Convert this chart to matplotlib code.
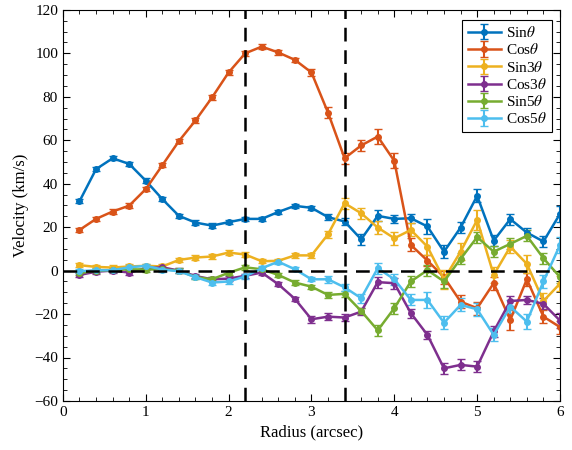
import matplotlib
matplotlib.use("Agg")
import matplotlib.pyplot as plt
from matplotlib.ticker import MultipleLocator

plt.rcParams['font.family'] = ['Liberation Serif', 'DejaVu Serif']
plt.rcParams['mathtext.fontset'] = 'stix'

radius = [0.2, 0.4, 0.6, 0.8, 1.0, 1.2, 1.4, 1.6, 1.8, 2.0,
          2.2, 2.4, 2.6, 2.8, 3.0, 3.2, 3.4, 3.6, 3.8, 4.0,
          4.2, 4.4, 4.6, 4.8, 5.0, 5.2, 5.4, 5.6, 5.8, 6.0]

sin1 = [31.9, 46.7, 51.7, 49.1, 41.4, 32.9, 25.2, 22.1, 20.7, 22.3,
        23.8, 23.8, 27.0, 29.8, 28.9, 24.6, 22.6, 14.4, 25.2, 23.8,
        24.1, 20.3, 8.7, 19.8, 34.4, 13.8, 23.7, 17.5, 13.4, 26.1]
cos1 = [18.7, 23.8, 27.2, 29.9, 37.5, 48.5, 59.6, 69.1, 79.7, 91.2,
        100.0, 103.1, 100.4, 97.0, 91.2, 72.7, 51.7, 57.6, 61.7, 50.5,
        11.8, 4.6, -3.0, -14.3, -17.3, -5.8, -22.7, -4.0, -21.2, -26.0]
sin3 = [2.5, 1.7, 1.4, 1.9, 2.2, 1.9, 4.9, 6.0, 6.5, 8.3,
        7.4, 4.3, 4.5, 7.0, 7.0, 16.7, 31.0, 26.4, 19.8, 14.9,
        18.7, 11.0, -4.0, 8.7, 23.3, -2.0, 11.0, 3.1, -14.0, -6.0]
cos3 = [-2.0, -0.5, 0.0, -0.9, 1.1, 1.5, 0.0, -2.5, -4.0, -3.7,
        -2.4, -0.9, -6.3, -13.0, -22.4, -21.2, -21.6, -18.9, -5.3, -5.8,
        -19.6, -29.6, -45.0, -43.4, -44.2, -28.0, -14.0, -13.5, -15.3, -23.0]
sin5 = [-1.2, 0.0, 0.2, 0.6, 0.5, 0.6, 0.0, -3.0, -4.0, -1.0,
        1.5, 0.6, -2.0, -5.5, -7.4, -11.2, -10.7, -18.6, -27.5, -17.3,
        -5.0, 0.2, -5.0, 5.4, 15.4, 8.7, 12.3, 16.0, 5.7, -3.0]
cos5 = [-0.3, 0.2, 0.2, 1.5, 2.2, 0.5, -0.3, -3.0, -5.5, -5.0,
        -2.7, 1.1, 4.1, 0.6, -4.0, -4.0, -7.7, -12.7, 1.1, -4.0,
        -13.5, -13.5, -24.0, -15.8, -17.8, -29.6, -16.6, -23.5, -5.0, 11.8]

err_sin1 = [1.0, 1.0, 1.0, 1.0, 1.0, 1.0, 1.0, 1.0, 1.0, 1.0,
            1.0, 1.0, 1.0, 1.0, 1.0, 1.5, 1.5, 2.5, 2.5, 2.0,
            2.0, 3.5, 3.0, 2.5, 3.0, 2.5, 2.5, 2.0, 2.5, 3.5]
err_cos1 = [1.0, 1.0, 1.0, 1.0, 1.0, 1.0, 1.0, 1.0, 1.0, 1.0,
            1.0, 1.0, 1.0, 1.0, 1.5, 2.5, 2.5, 2.5, 3.5, 3.5,
            3.0, 2.5, 3.0, 3.0, 3.0, 3.0, 4.5, 3.0, 3.0, 3.0]
err_sin3 = [1.0, 1.0, 1.0, 1.0, 1.0, 1.0, 1.0, 1.0, 1.0, 1.0,
            1.0, 1.0, 1.0, 1.0, 1.0, 1.5, 2.5, 2.5, 3.0, 3.0,
            3.0, 4.0, 4.5, 4.0, 4.5, 3.5, 3.0, 4.0, 3.5, 3.5]
err_cos3 = [1.0, 1.0, 1.0, 1.0, 1.0, 1.0, 1.0, 1.0, 1.0, 1.0,
            1.0, 1.0, 1.0, 1.0, 1.5, 1.5, 1.5, 1.5, 2.5, 2.5,
            2.0, 2.0, 2.5, 2.5, 2.5, 2.5, 2.5, 2.0, 2.5, 3.5]
err_sin5 = [1.0, 1.0, 1.0, 1.0, 1.0, 1.0, 1.0, 1.0, 1.0, 1.0,
            1.0, 1.0, 1.0, 1.0, 1.0, 1.5, 1.5, 1.5, 2.5, 2.5,
            2.5, 2.5, 3.0, 2.5, 2.5, 2.5, 2.5, 2.5, 2.5, 2.5]
err_cos5 = [1.0, 1.0, 1.0, 1.0, 1.0, 1.0, 1.0, 1.0, 1.0, 1.0,
            1.0, 1.0, 1.0, 1.0, 1.0, 1.5, 1.5, 2.0, 2.5, 2.5,
            2.5, 3.5, 3.0, 3.0, 3.0, 3.0, 3.0, 3.5, 3.0, 3.5]

series = [
    ('Sin$\\theta$', sin1, err_sin1, '#0072BD'),
    ('Cos$\\theta$', cos1, err_cos1, '#D95319'),
    ('Sin3$\\theta$', sin3, err_sin3, '#EDB120'),
    ('Cos3$\\theta$', cos3, err_cos3, '#7E2F8E'),
    ('Sin5$\\theta$', sin5, err_sin5, '#77AC30'),
    ('Cos5$\\theta$', cos5, err_cos5, '#4DBEEE'),
]

boundaries = [2.2, 3.4]

fig = plt.figure(figsize=(5.72, 4.5), dpi=100)
ax = fig.add_axes([0.110, 0.109, 0.869, 0.869])

for label, vals, errs, col in series:
    ax.errorbar(radius, vals, yerr=errs, color=col, lw=1.8, marker='o',
                ms=4, mew=1, capsize=3, capthick=1.5, elinewidth=1.5,
                label=label)

dash = (0, (5.5, 3.5))
ax.axhline(0, color='black', ls=dash, lw=1.8, zorder=5)
for b in boundaries:
    ax.axvline(b, color='black', ls=dash, lw=1.8, zorder=5)

ax.set_xlim(0, 6)
ax.set_ylim(-60, 120)
ax.xaxis.set_major_locator(MultipleLocator(1))
ax.xaxis.set_minor_locator(MultipleLocator(0.2))
ax.yaxis.set_major_locator(MultipleLocator(20))
ax.yaxis.set_minor_locator(MultipleLocator(5))
ax.tick_params(which='both', direction='in', top=True, right=True,
               labelsize=11)
ax.tick_params(which='major', length=5)
ax.tick_params(which='minor', length=3)

ax.set_xlabel('Radius (arcsec)', fontsize=12)
ax.set_ylabel('Velocity (km/s)', fontsize=12)

leg = ax.legend(loc='upper right', fontsize=11, fancybox=False,
                edgecolor='black', framealpha=1, borderpad=0.35,
                labelspacing=0.15, handlelength=2.2, handletextpad=0.3,
                borderaxespad=0, bbox_to_anchor=(0.984, 0.975))
leg.get_frame().set_linewidth(0.8)

fig.savefig('out.png', dpi=100)
